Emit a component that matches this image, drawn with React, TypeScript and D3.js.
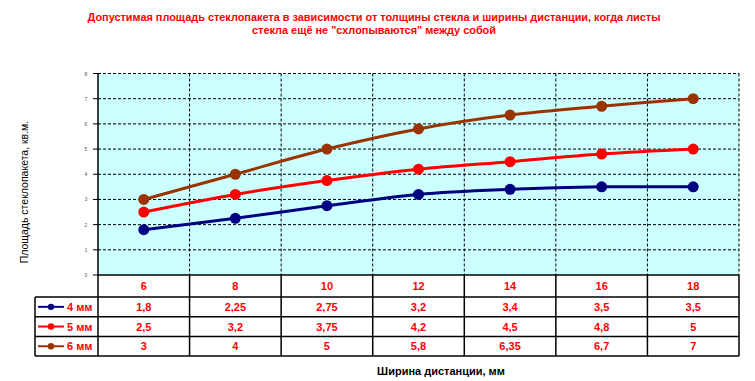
import React from "react";
import * as d3 from "d3";

const categories = ["6", "8", "10", "12", "14", "16", "18"];
const seriesNames = ["4 мм", "5 мм", "6 мм"];
const s4 = [1.8, 2.25, 2.75, 3.2, 3.4, 3.5, 3.5];
const s5 = [2.5, 3.2, 3.75, 4.2, 4.5, 4.8, 5];
const s6 = [3, 4, 5, 5.8, 6.35, 6.7, 7];
const seriesColors = ["#000080", "#FF0000", "#993300"];
const yTicks = [0, 1, 2, 3, 4, 5, 6, 7, 8];
const titleLines = [
  "Допустимая площадь стеклопакета в зависимости от толщины стекла и ширины дистанции, когда листы",
  "стекла ещё не \"схлопываются\" между собой",
];
const yTitle = "Площадь стеклопакета, кв.м.";
const xTitle = "Ширина дистанции, мм";

const W = 755;
const H = 381;
const plotLeft = 98;
const plotRight = 739;
const plotTop = 73.5;
const plotBottom = 275;
const tableLeft = 35;
const headerBottom = 297;
const rowH = 19.7;

const fmt = (v: number) => String(v).replace(".", ",");

export default function App() {
  const series = [s4, s5, s6];
  const x = d3.scaleBand<string>().domain(categories).range([plotLeft, plotRight]).paddingInner(0).paddingOuter(0);
  const y = d3.scaleLinear().domain([0, 8]).range([plotBottom, plotTop]);
  const cx = (c: string) => (x(c) as number) + x.bandwidth() / 2;
  const line = d3
    .line<number>()
    .x((_, i) => cx(categories[i]))
    .y((d) => y(d))
    .curve(d3.curveCatmullRom.alpha(0.5));
  const tableBottom = headerBottom + rowH * series.length;
  const font = "Liberation Sans, Arial, sans-serif";

  return (
    <svg width={W} height={H} style={{ position: "absolute", left: 0, top: 0, background: "#fff" }} fontFamily={font}>
      <rect x={0} y={0} width={W} height={H} fill="#fff" />
      {titleLines.map((t, i) => (
        <text
          key={i}
          x={374}
          y={21 + i * 13}
          textAnchor="middle"
          fill="#FF0000"
          fontWeight="bold"
          fontSize={11.5}
          textLength={i === 0 ? 573 : 244}
          lengthAdjust="spacingAndGlyphs"
        >
          {t}
        </text>
      ))}
      {/* plot area */}
      <rect x={plotLeft} y={plotTop} width={plotRight - plotLeft} height={plotBottom - plotTop} fill="#CCFFFF" />
      {yTicks.map((t) => (
        <g key={t}>
          {t > 0 && (
            <line x1={plotLeft} x2={plotRight} y1={y(t)} y2={y(t)} stroke="#000" strokeWidth={1} strokeDasharray="3,2" />
          )}
          <line x1={plotLeft - 5} x2={plotLeft} y1={y(t)} y2={y(t)} stroke="#000" strokeWidth={1} />
          <text x={86} y={y(t) + 2} textAnchor="middle" fontSize={5} fill="#555">
            {t}
          </text>
        </g>
      ))}
      {categories.map((c) => (
        <line
          key={c}
          x1={(x(c) as number) + x.bandwidth()}
          x2={(x(c) as number) + x.bandwidth()}
          y1={plotTop}
          y2={plotBottom}
          stroke="#000"
          strokeWidth={1}
          strokeDasharray="3,2"
        />
      ))}
      <line x1={plotLeft} x2={plotLeft} y1={plotTop} y2={plotBottom} stroke="#000" strokeWidth={1.5} />
      {/* series */}
      {series.map((s, si) => (
        <g key={si}>
          <path d={line(s) || ""} fill="none" stroke={seriesColors[si]} strokeWidth={3} />
          {s.map((v, i) => (
            <circle key={i} cx={cx(categories[i])} cy={y(v)} r={5.5} fill={seriesColors[si]} />
          ))}
        </g>
      ))}
      {/* table */}
      <g stroke="#000" strokeWidth={1.5}>
        <line x1={plotLeft} x2={plotRight} y1={plotBottom} y2={plotBottom} />
        <line x1={tableLeft} x2={plotRight} y1={headerBottom} y2={headerBottom} />
        {series.map((_, si) => (
          <line key={si} x1={tableLeft} x2={plotRight} y1={headerBottom + rowH * (si + 1)} y2={headerBottom + rowH * (si + 1)} />
        ))}
        <line x1={tableLeft} x2={tableLeft} y1={headerBottom} y2={tableBottom} />
        <line x1={plotLeft} x2={plotLeft} y1={plotBottom} y2={tableBottom} />
        {categories.map((c) => (
          <line
            key={c}
            x1={(x(c) as number) + x.bandwidth()}
            x2={(x(c) as number) + x.bandwidth()}
            y1={plotBottom}
            y2={tableBottom}
          />
        ))}
      </g>
      {categories.map((c) => (
        <text key={c} x={cx(c)} y={(plotBottom + headerBottom) / 2 + 4} textAnchor="middle" fill="#FF0000" fontWeight="bold" fontSize={11}>
          {c}
        </text>
      ))}
      {series.map((s, si) => {
        const rowMid = headerBottom + rowH * si + rowH / 2;
        return (
          <g key={si}>
            <line x1={38} x2={64} y1={rowMid} y2={rowMid} stroke={seriesColors[si]} strokeWidth={2} />
            <circle cx={51} cy={rowMid} r={3.2} fill={seriesColors[si]} />
            <text x={67} y={rowMid + 4} fill="#FF0000" fontWeight="bold" fontSize={11}>
              {seriesNames[si]}
            </text>
            {s.map((v, i) => (
              <text key={i} x={cx(categories[i])} y={rowMid + 4} textAnchor="middle" fill="#FF0000" fontWeight="bold" fontSize={11}>
                {fmt(v)}
              </text>
            ))}
          </g>
        );
      })}
      <text x={441} y={375} textAnchor="middle" fontWeight="bold" fontSize={11} fill="#000">
        {xTitle}
      </text>
      <text
        transform={`translate(28,${192}) rotate(-90)`}
        textAnchor="middle"
        fontSize={10.5}
        fill="#000"
      >
        {yTitle}
      </text>
    </svg>
  );
}
